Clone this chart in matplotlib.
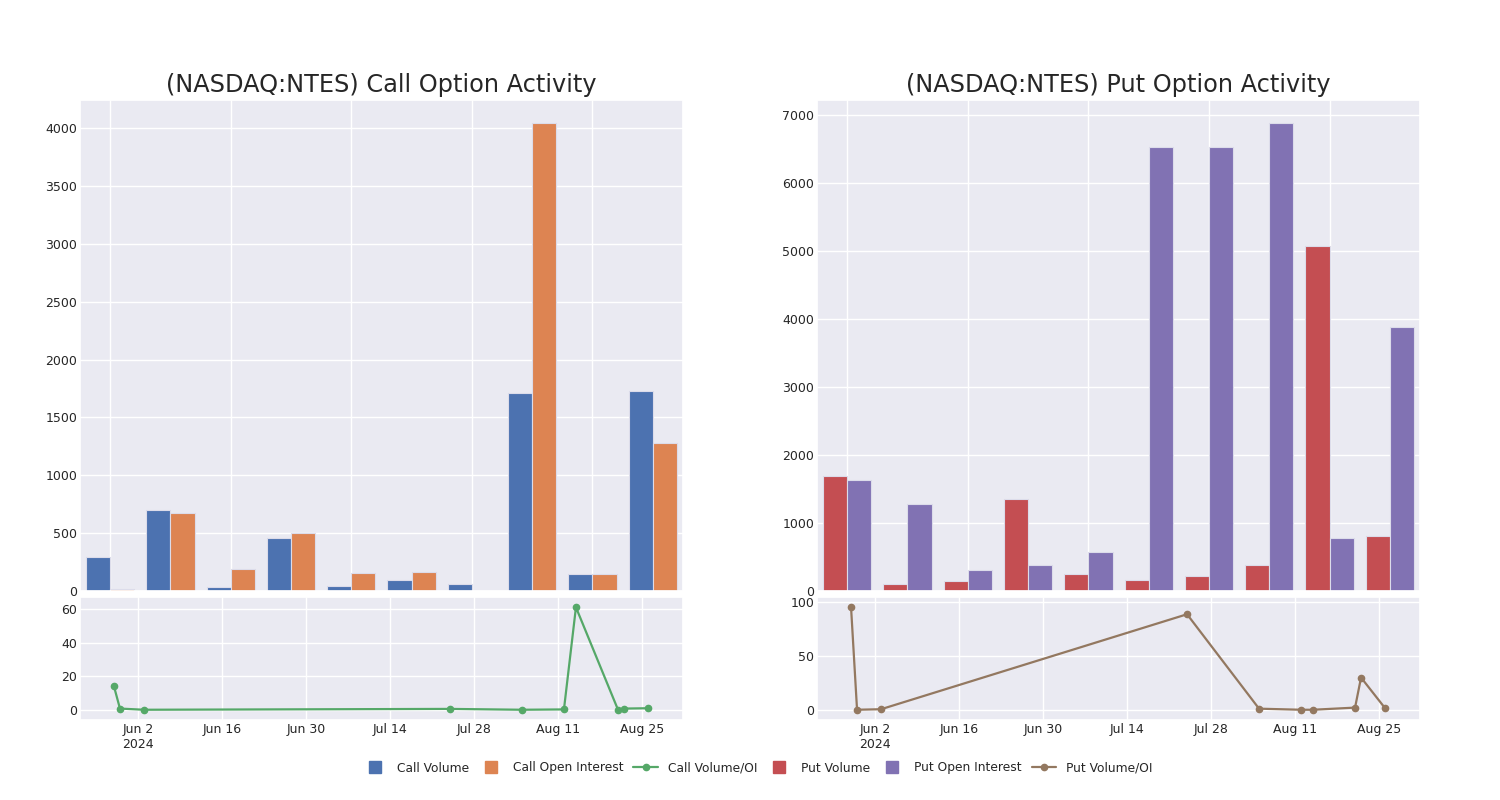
import numpy as np
import pandas as pd
import seaborn as sns
import matplotlib
matplotlib.use('Agg')
import matplotlib.pyplot as plt
from matplotlib.lines import Line2D

sns.set_theme(style='darkgrid')

# bar groups (top panels)
call_volume = [295, 703, 35, 460, 43, 95, 61, 1709, 148, 1727]
call_oi = [17, 677, 191, 503, 156, 165, 1, 4043, 148, 1276]
put_volume = [1695, 103, 147, 1356, 250, 162, 221, 383, 5084, 810]
put_oi = [1636, 1282, 309, 383, 575, 6528, 6528, 6882, 781, 3890]

# volume / open interest ratio by date (bottom panels)
dates = pd.to_datetime(['2024-05-29', '2024-05-30', '2024-06-03', '2024-07-24', '2024-08-05',
                        '2024-08-12', '2024-08-14', '2024-08-21', '2024-08-22', '2024-08-26'])
call_ratio = [14.2, 1.0, 0.3, 0.8, 0.3, 0.5, 61.0, 0.4, 1.0, 1.2]
put_ratio = [95.5, 0.0, 0.5, 89.0, 1.0, 0.0, 0.0, 2.0, 30.0, 1.5]

tick_dates = pd.to_datetime(['2024-06-02', '2024-06-16', '2024-06-30', '2024-07-14',
                             '2024-07-28', '2024-08-11', '2024-08-25'])
tick_labels = ['Jun 2\n2024', 'Jun 16', 'Jun 30', 'Jul 14', 'Jul 28', 'Aug 11', 'Aug 25']

c_blue, c_orange, c_green = '#4C72B0', '#DD8452', '#55A868'
c_red, c_purple, c_brown = '#C44E52', '#8172B3', '#937860'

fig = plt.figure(figsize=(15, 8), dpi=100)


def panel(left, right, vol, oi, ratio, c1, c2, c3, title, yt_top, yt_bot):
    gs = fig.add_gridspec(2, 1, left=left, right=right, top=0.875, bottom=0.1,
                          height_ratios=[491, 123], hspace=0.02)
    ax = fig.add_subplot(gs[0])
    x = np.arange(len(vol))
    w = 0.4
    ax.bar(x - w / 2, vol, w, color=c1, edgecolor='#dcdcea', linewidth=0.8)
    ax.bar(x + w / 2, oi, w, color=c2, edgecolor='#dcdcea', linewidth=0.8)
    ax.set_xlim(-0.5, len(vol) - 0.5)
    ax.set_xticks(x[::2])
    ax.set_xticklabels([])
    ax.set_yticks(yt_top)
    ax.tick_params(labelsize=9, length=0, pad=2)
    ax.set_title(title, fontsize=17.3)

    ax2 = fig.add_subplot(gs[1])
    ax2.plot(dates, ratio, color=c3, marker='o', markersize=4.5, linewidth=1.6)
    ax2.set_xlim(pd.Timestamp('2024-05-23 08:00'), pd.Timestamp('2024-08-31 20:00'))
    ax2.margins(y=0.1)
    ax2.set_xticks(tick_dates)
    ax2.set_xticklabels(tick_labels)
    ax2.set_yticks(yt_bot)
    ax2.tick_params(labelsize=9, length=0, pad=2)


panel(0.0533, 0.4553, call_volume, call_oi, call_ratio, c_blue, c_orange, c_green,
      '(NASDAQ:NTES) Call Option Activity', np.arange(0, 4001, 500), [0, 20, 40, 60])
panel(0.5447, 0.9467, put_volume, put_oi, put_ratio, c_red, c_purple, c_brown,
      '(NASDAQ:NTES) Put Option Activity', np.arange(0, 7001, 1000), [0, 50, 100])

handles = [
    Line2D([], [], color=c_blue, marker='s', linestyle='none', markersize=8),
    Line2D([], [], color=c_orange, marker='s', linestyle='none', markersize=8),
    Line2D([], [], color=c_green, marker='o', markersize=4.5, linewidth=1.6),
    Line2D([], [], color=c_red, marker='s', linestyle='none', markersize=8),
    Line2D([], [], color=c_purple, marker='s', linestyle='none', markersize=8),
    Line2D([], [], color=c_brown, marker='o', markersize=4.5, linewidth=1.6),
]
labels = ['Call Volume', 'Call Open Interest', 'Call Volume/OI',
          'Put Volume', 'Put Open Interest', 'Put Volume/OI']
fig.legend(handles, labels, loc='center', bbox_to_anchor=(0.505, 0.04), ncol=6,
           frameon=False, fontsize=8.8, handlelength=2, columnspacing=0.8)

fig.savefig('out.png', dpi=100)
